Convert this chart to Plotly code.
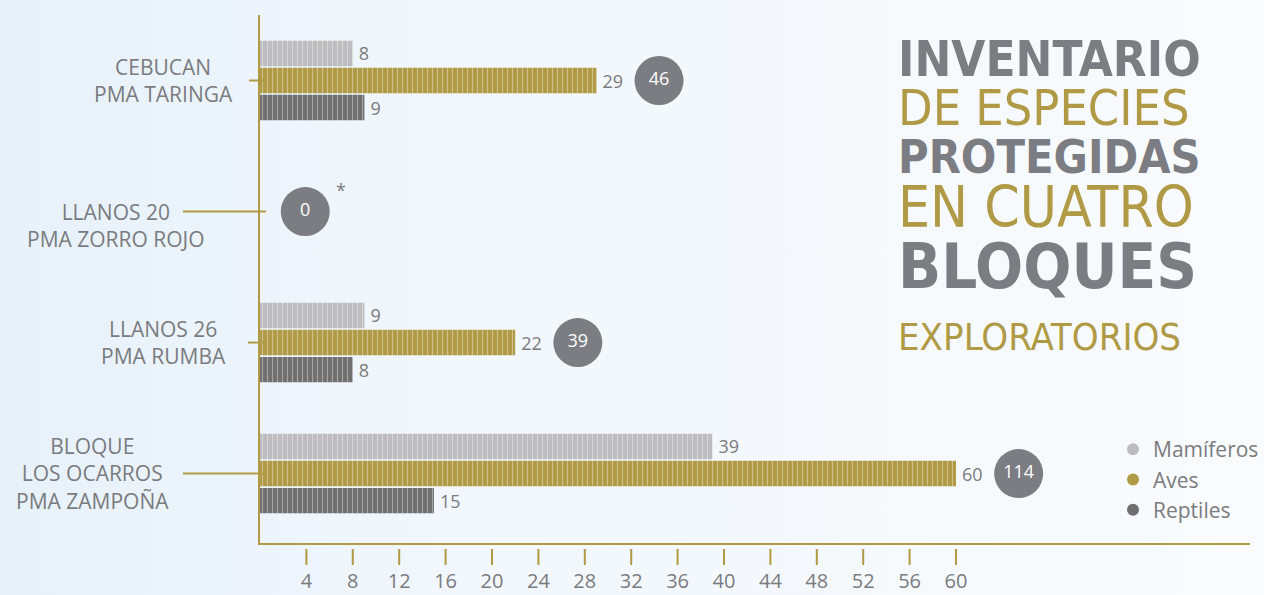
import base64
import plotly.graph_objects as go

# ---------------- data ----------------
categories = ["CEBUCAN<br>PMA TARINGA", "LLANOS 20<br>PMA ZORRO ROJO",
              "LLANOS 26<br>PMA RUMBA", "BLOQUE<br>LOS OCARROS<br>PMA ZAMPOÑA"]
series_names = ["Mamíferos", "Aves", "Reptiles"]
mamiferos = [8, 0, 9, 39]
aves = [29, 0, 22, 60]
reptiles = [9, 0, 8, 15]
totals = [46, 0, 39, 114]
tick_values = [4, 8, 12, 16, 20, 24, 28, 32, 36, 40, 44, 48, 52, 56, 60]

# ---------------- style ----------------
GOLD = "#b09a45"
LGRAY = "#bdbdbf"
DGRAY = "#6f6f70"
TXT = "#7a7b7f"
BUBBLE = "#7c7d82"
colors = [LGRAY, GOLD, DGRAY]
series_vals = [mamiferos, aves, reptiles]

L, R, T, B = 260, 1250, 15, 543
W = R - L
H = B - T

fig = go.Figure()
for name, vals, col in zip(series_names, series_vals, colors):
    fig.add_trace(go.Bar(
        y=categories, x=vals, orientation="h", name=name,
        marker=dict(color=col, line=dict(width=0),
                    pattern=dict(shape="|", fgcolor="rgba(255,255,255,0.75)",
                                 size=5, solidity=0.22, fillmode="overlay")),
        text=[str(v) if v > 0 else "" for v in vals],
        texttemplate="\u2009%{text}",
        textposition="outside", cliponaxis=False,
        textfont=dict(size=18, color=TXT, family="Open Sans"),
        showlegend=False,
    ))

# total bubbles
maxes = [max(a, b, c) for a, b, c in zip(mamiferos, aves, reptiles)]
bubble_x = [m + 5.4 if m > 0 else 3.9 for m in maxes]
fig.add_trace(go.Scatter(
    x=bubble_x, y=categories, mode="markers+text",
    marker=dict(size=49, color=BUBBLE, line=dict(width=0)),
    text=[str(t) for t in totals], textposition="middle center",
    textfont=dict(size=18, color="white", family="Open Sans"),
    showlegend=False, cliponaxis=False, hoverinfo="skip",
))

# legend entries (dots)
for name, col in zip(series_names, colors):
    fig.add_trace(go.Scatter(x=[None], y=[None], mode="markers", name=name,
                             marker=dict(size=11, color=col, symbol="circle")))

# asterisk next to zero bubble
fig.add_annotation(x=bubble_x[1], y=categories[1], text="*", showarrow=False,
                   xshift=36, yshift=22, font=dict(size=18, color=TXT, family="Open Sans"))

# category labels and connector lines
label_x = [163, 116, 163, 92]
label_yshift = [0, -13.6, 0, 0]
line_start = [249, 183, 248, 183]
for cat, lx, ys, ls in zip(categories, label_x, label_yshift, line_start):
    fig.add_annotation(x=(lx - L) / W, xref="paper", y=cat, yref="y", text=cat,
                       showarrow=False, xanchor="center", yanchor="middle", align="center",
                       yshift=ys, font=dict(size=21, color=TXT, family="Open Sans"))
    fig.add_shape(type="line", xref="paper", yref="y", x0=(ls - L) / W, x1=(266 - L) / W,
                  y0=cat, y1=cat, line=dict(color=GOLD, width=2))

# detached tick marks
for tv in tick_values:
    fig.add_shape(type="line", xref="x", yref="paper", x0=tv, x1=tv,
                  y0=-(549 - B) / H, y1=-(565 - B) / H, line=dict(color=GOLD, width=2))

# title block
TITLE_FONT = "DejaVu Sans Condensed, Liberation Sans Narrow, sans-serif"
title_lines = [
    ("INVENTARIO", 60, 49, True, BUBBLE),
    ("DE ESPECIES", 108, 50, False, GOLD),
    ("PROTEGIDAS", 157, 46.5, True, BUBBLE),
    ("EN CUATRO", 207, 56.5, False, GOLD),
    ("BLOQUES", 266, 63, True, BUBBLE),
    ("EXPLORATORIOS", 337, 38, False, GOLD),
]
for txt, yc, sz, bold, col in title_lines:
    fig.add_annotation(x=(896 - L) / W, xref="paper", y=(B - yc) / H, yref="paper",
                       text=f"<b>{txt}</b>" if bold else txt, showarrow=False,
                       xanchor="left", yanchor="middle",
                       font=dict(size=sz, color=col, family=TITLE_FONT))

# soft background gradient
svg = ('<svg xmlns="http://www.w3.org/2000/svg" width="1264" height="595">'
       '<defs><linearGradient id="g" x1="0" y1="0" x2="1" y2="0">'
       '<stop offset="0" stop-color="#e7f1fa"/><stop offset="0.35" stop-color="#f1f7fc"/>'
       '<stop offset="1" stop-color="#f9fbfd"/></linearGradient></defs>'
       '<rect width="1264" height="595" fill="url(#g)"/></svg>')
bg_src = "data:image/svg+xml;base64," + base64.b64encode(svg.encode()).decode()
fig.add_layout_image(source=bg_src, xref="paper", yref="paper", x=-L / W, y=1 + T / H,
                     sizex=1264 / W, sizey=595 / H, sizing="stretch", layer="below",
                     xanchor="left", yanchor="top")

fig.update_layout(
    width=1264, height=595,
    margin=dict(l=L, r=1264 - R, t=T, b=595 - B, autoexpand=False),
    paper_bgcolor="#f4f8fc", plot_bgcolor="rgba(0,0,0,0)",
    barmode="group", bargap=0.38, bargroupgap=0.06,
    font=dict(family="Open Sans", color=TXT),
    legend=dict(x=(1113 - L) / W, y=(B - 429) / H, xanchor="left", yanchor="top",
                bgcolor="rgba(0,0,0,0)", font=dict(size=21, color=TXT, family="Open Sans"),
                itemsizing="constant", tracegroupgap=0),
    xaxis=dict(range=[0, W / 11.6], tickvals=tick_values, ticks="", showgrid=False,
               zeroline=False, showline=True, linecolor=GOLD, linewidth=2,
               tickfont=dict(size=20, color=TXT, family="Open Sans"),
               ticklabelstandoff=19, automargin=False, fixedrange=True),
    yaxis=dict(range=[3.53, -0.5], showticklabels=False, ticks="", showgrid=False,
               zeroline=False, showline=True, linecolor=GOLD, linewidth=2,
               automargin=False, fixedrange=True),
)

fig.write_html("out.html", config={"displayModeBar": False},
               post_script="document.body.style.margin='0';document.body.style.overflow='hidden';")
